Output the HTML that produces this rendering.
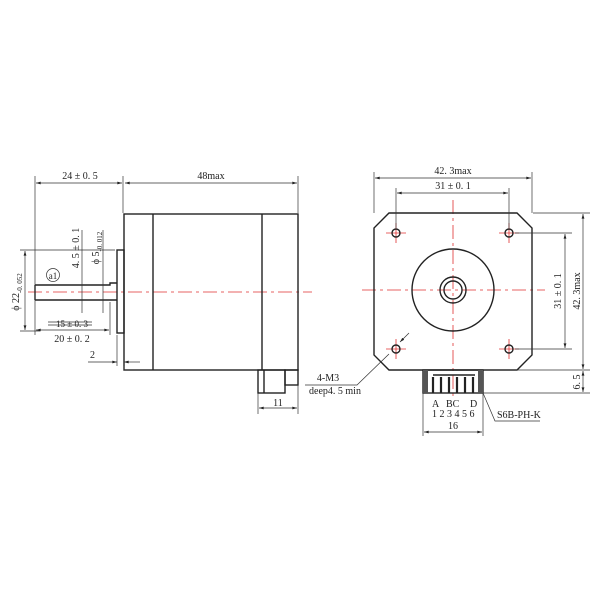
<!DOCTYPE html>
<html><head><style>body{margin:0;background:#fff}svg{display:block}text{font-family:"Liberation Serif",serif;fill:#222}</style></head><body>
<svg width="600" height="600" viewBox="0 0 600 600" xmlns="http://www.w3.org/2000/svg">
<defs><marker id="a" viewBox="0 0 10 6" refX="10" refY="3" markerWidth="8" markerHeight="4" orient="auto-start-reverse"><path d="M0,0L10,3L0,6z" fill="#222"/></marker></defs>
<g stroke="#e03030" stroke-width="0.8" stroke-dasharray="14,4,3,4" fill="none">
<line x1="28" y1="292" x2="312" y2="292"/>
<line x1="362" y1="290" x2="545" y2="290"/>
<line x1="453" y1="200" x2="453" y2="400"/>
<line x1="386" y1="233" x2="406" y2="233" stroke-dasharray="none"/><line x1="396" y1="223" x2="396" y2="243" stroke-dasharray="none"/>
<line x1="499" y1="233" x2="519" y2="233" stroke-dasharray="none"/><line x1="509" y1="223" x2="509" y2="243" stroke-dasharray="none"/>
<line x1="386" y1="349" x2="406" y2="349" stroke-dasharray="none"/><line x1="396" y1="339" x2="396" y2="359" stroke-dasharray="none"/>
<line x1="499" y1="349" x2="519" y2="349" stroke-dasharray="none"/><line x1="509" y1="339" x2="509" y2="359" stroke-dasharray="none"/>
</g>
<g stroke="#222" stroke-width="1.4" fill="none">
<rect x="124" y="214" width="174" height="156"/>
<line x1="153" y1="214" x2="153" y2="370"/><line x1="262" y1="214" x2="262" y2="370"/>
<rect x="117" y="250" width="7" height="83"/>
<path d="M35,285H110V283H117M35,300H117M35,285V300"/>
<rect x="258" y="370" width="27" height="23"/><line x1="264" y1="370" x2="264" y2="393"/>
<rect x="285" y="370" width="13" height="15"/>
<path d="M389,213H517L532,228V355L517,370H389L374,355V228Z"/>
<circle cx="453" cy="290" r="41"/><circle cx="453" cy="290" r="13"/><circle cx="453" cy="290" r="9"/>
<circle cx="396" cy="233" r="4"/><circle cx="509" cy="233" r="4"/><circle cx="396" cy="349" r="4"/><circle cx="509" cy="349" r="4"/>
<rect x="423" y="370" width="60" height="23"/>
<path d="M433,375H475"/>
</g>
<g fill="#555"><rect x="423" y="370" width="5" height="23"/><rect x="478" y="370" width="5" height="23"/></g>
<g stroke="#222" stroke-width="2.2">
<line x1="433" y1="377" x2="433" y2="393"/><line x1="441" y1="377" x2="441" y2="393"/><line x1="449" y1="377" x2="449" y2="393"/><line x1="457" y1="377" x2="457" y2="393"/><line x1="465" y1="377" x2="465" y2="393"/><line x1="473" y1="377" x2="473" y2="393"/>
</g>
<g stroke="#333" stroke-width="0.7" fill="none">
<line x1="35" y1="176" x2="35" y2="335"/><line x1="123" y1="176" x2="123" y2="213"/><line x1="298" y1="176" x2="298" y2="213"/>
<line x1="36" y1="183" x2="122" y2="183" marker-start="url(#a)" marker-end="url(#a)"/>
<line x1="125" y1="183" x2="297" y2="183" marker-start="url(#a)" marker-end="url(#a)"/>
<line x1="20" y1="250" x2="115" y2="250"/><line x1="20" y1="331" x2="40" y2="331"/>
<line x1="25" y1="251" x2="25" y2="330" marker-start="url(#a)" marker-end="url(#a)"/>
<line x1="82" y1="230" x2="82" y2="313"/><line x1="103" y1="230" x2="103" y2="313"/>
<line x1="36" y1="330" x2="109" y2="330" marker-start="url(#a)" marker-end="url(#a)"/>
<line x1="48" y1="322" x2="92" y2="322"/><line x1="48" y1="325" x2="92" y2="325"/>
<line x1="110" y1="302" x2="110" y2="335"/><line x1="117" y1="335" x2="117" y2="366"/><line x1="124" y1="370" x2="124" y2="366"/>
<line x1="88" y1="362" x2="117" y2="362" marker-end="url(#a)"/><line x1="140" y1="362" x2="124" y2="362" marker-end="url(#a)"/>
<line x1="258" y1="393" x2="258" y2="414"/><line x1="298" y1="385" x2="298" y2="414"/>
<line x1="259" y1="408" x2="297" y2="408" marker-start="url(#a)" marker-end="url(#a)"/>
<circle cx="53" cy="275" r="6.5"/>
<line x1="374" y1="172" x2="374" y2="213"/><line x1="532" y1="172" x2="532" y2="213"/>
<line x1="375" y1="178" x2="531" y2="178" marker-start="url(#a)" marker-end="url(#a)"/>
<line x1="396" y1="188" x2="396" y2="228"/><line x1="509" y1="188" x2="509" y2="228"/>
<line x1="397" y1="193" x2="508" y2="193" marker-start="url(#a)" marker-end="url(#a)"/>
<line x1="533" y1="213" x2="590" y2="213"/><line x1="515" y1="233" x2="572" y2="233"/><line x1="515" y1="349" x2="572" y2="349"/>
<line x1="483" y1="370" x2="590" y2="370"/><line x1="483" y1="393" x2="590" y2="393"/>
<line x1="583" y1="214" x2="583" y2="369" marker-start="url(#a)" marker-end="url(#a)"/>
<line x1="565" y1="234" x2="565" y2="348" marker-start="url(#a)" marker-end="url(#a)"/>
<line x1="583" y1="371" x2="583" y2="392" marker-start="url(#a)" marker-end="url(#a)"/>
<line x1="423" y1="393" x2="423" y2="436"/><line x1="483" y1="393" x2="483" y2="436"/>
<line x1="424" y1="432" x2="482" y2="432" marker-start="url(#a)" marker-end="url(#a)"/>
<path d="M305,385H357L389,354"/><line x1="409" y1="333" x2="400" y2="342" marker-end="url(#a)"/>
<path d="M483,393L495,421H540"/>
</g>
<g font-size="10">
<text x="80" y="179" text-anchor="middle">24 ± 0. 5</text>
<text x="211" y="179" text-anchor="middle">48max</text>
<text x="72" y="342" text-anchor="middle">20 ± 0. 2</text>
<text x="72" y="327" text-anchor="middle" font-size="9">15 ± 0. 3</text>
<text x="90" y="358">2</text>
<text x="278" y="406" text-anchor="middle">11</text>
<text x="53" y="279" text-anchor="middle" font-size="9">a1</text>
<text transform="translate(79,248) rotate(-90)" text-anchor="middle">4. 5 ± 0. 1</text>
<text transform="translate(99,248) rotate(-90)" text-anchor="middle">ϕ 5<tspan font-size="7" dy="3">-0. 012</tspan></text>
<text transform="translate(19,292) rotate(-90)" text-anchor="middle">ϕ 22<tspan font-size="7" dy="3">-0. 052</tspan></text>
<text x="453" y="174" text-anchor="middle">42. 3max</text>
<text x="453" y="189" text-anchor="middle">31 ± 0. 1</text>
<text transform="translate(561,291) rotate(-90)" text-anchor="middle">31 ± 0. 1</text>
<text transform="translate(580,291) rotate(-90)" text-anchor="middle">42. 3max</text>
<text transform="translate(580,382) rotate(-90)" text-anchor="middle">6. 5</text>
<text x="328" y="381" text-anchor="middle">4-M3</text>
<text x="335" y="394" text-anchor="middle">deep4. 5 min</text>
<text x="432" y="407">A</text><text x="446" y="407">BC</text><text x="470" y="407">D</text>
<text x="432" y="417">1 2 3 4 5 6</text>
<text x="453" y="429" text-anchor="middle">16</text>
<text x="497" y="418">S6B-PH-K</text>
</g>
</svg>
</body></html>
